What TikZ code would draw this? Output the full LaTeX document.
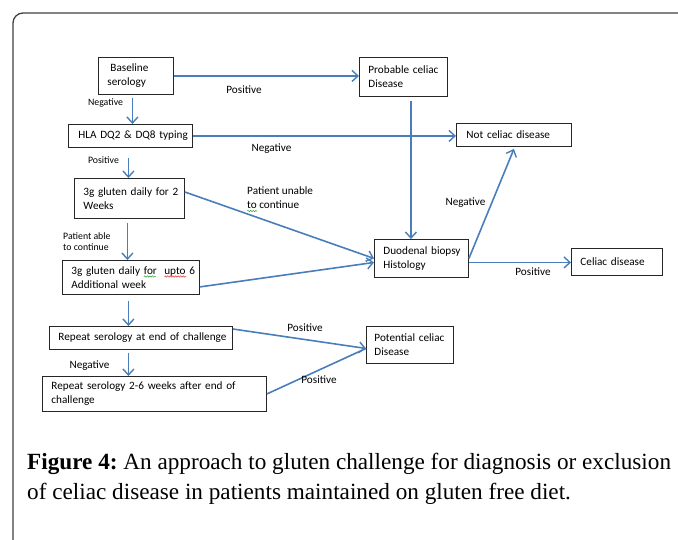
\documentclass[tikz,border=0pt]{standalone}
\usepackage{fontspec}
\setmainfont{Carlito}
\newfontfamily\capfont{Liberation Serif}
\usetikzlibrary{arrows.meta,decorations.pathmorphing,calc}
\definecolor{arrowblue}{HTML}{4A7EBB}
\definecolor{framegray}{HTML}{3F3F3F}
\definecolor{spellred}{HTML}{E03030}
\definecolor{spellgreen}{HTML}{30A030}
\frenchspacing
\begin{document}
\begin{tikzpicture}[x=1pt,y=-1pt,
  box/.style={draw=black!85, line width=0.9pt, align=left, anchor=north west,
    inner ysep=0pt, inner xsep=9pt, font=\fontsize{11.2}{14}\selectfont},
  conn/.style={draw=arrowblue, line width=1.6pt,
    -{Straight Barb[length=6pt,width=11pt,line width=1.4pt]}},
  plain/.style={draw=arrowblue, line width=1.6pt},
  lbl/.style={font=\fontsize{11.2}{14}\selectfont, inner sep=0pt, align=left},
  slbl/.style={font=\fontsize{9.8}{11.5}\selectfont, inner sep=0pt, align=left},
  wavy/.style={line width=0.5pt, decorate, decoration={snake, amplitude=0.7pt, segment length=2.6pt}},
]
\useasboundingbox (0,0) rectangle (678,539);

% frame
\draw[framegray, line width=1.3pt, rounded corners=10pt] (13,560) -- (13,13) -- (700,13);

% boxes
\node[box, text width=57, minimum height=37] (base) at (98,57) {\mbox{\hspace{3pt}Baseline}\\\mbox{serology}};
\node[box, text width=70, minimum height=39] (prob) at (359,57) {\mbox{Probable celiac}\\\mbox{Disease}};
\node[box, text width=104, minimum height=23, inner xsep=10pt] (hla) at (68,124) {\mbox{HLA DQ2 \& DQ8 typing}};
\node[box, text width=95, minimum height=23, inner xsep=10pt] (notc) at (456,123) {\mbox{Not celiac disease}};
\node[box, text width=92, minimum height=40] (g2) at (74,178) {\mbox{3g gluten daily for 2}\\\mbox{Weeks}};
\node[box, text width=76, minimum height=38] (duo) at (374,239) {\mbox{Duodenal biopsy}\\\mbox{Histology}};
\node[box, text width=73, minimum height=27] (cel) at (571,248) {\mbox{Celiac disease}};
\node[box, text width=119, minimum height=34] (g6) at (62,260) {\mbox{3g gluten daily \smash{\tikz[baseline=0pt]\draw[spellgreen, wavy, overlay] (0,2.2) -- (12,2.2);}for\ \ \smash{\tikz[baseline=0pt]\draw[spellred, wavy, overlay] (0,2.2) -- (22,2.2);}upto 6}\\\mbox{Additional week}};
\node[box, text width=165, minimum height=23] (rep1) at (49,326) {\mbox{Repeat serology at end of challenge}};
\node[box, text width=71, minimum height=37, inner xsep=8pt] (pot) at (366,326) {\mbox{Potential celiac}\\\mbox{Disease}};
\node[box, text width=206, minimum height=35] (rep2) at (42,376) {\mbox{Repeat serology 2-6 weeks after end of}\\\mbox{challenge}};

% helper coordinates
\coordinate (pv) at ($(prob.south)+(7.5,4)$);
\coordinate (g2o) at ($(g2.north east)+(0,14)$);
\coordinate (g6o) at ($(g6.south east)+(0,-8)$);
\coordinate (r1o) at ($(rep1.north east)+(0,3)$);
\coordinate (hd) at ($(hla.south)+(-2,10)$);
\coordinate (gd) at ($(g2.south)+(-2,4)$);
\coordinate (g6d) at ($(g6.south)+(-2.5,6)$);
\coordinate (r1d) at ($(rep1.south)+(-12.5,3)$);

% connectors
\draw[conn] (base.east) -- (base.east -| prob.west);
\draw[conn] ([xshift=-3.5pt,yshift=-3pt]base.south) -- ([xshift=-3.5pt]base.south |- hla.north);
\draw[conn] (hla.east) -- (hla.east -| notc.west);
\draw[conn] (hd) -- (hd |- g2.north);
\draw[conn] (pv) -- (pv |- duo.north);
\draw[conn] (g2o) -- (duo.west);
\draw[conn] (gd) -- (gd |- g6.north);
\draw[conn] (g6o) -- ([yshift=-4pt]duo.west);
\draw[conn] (duo.east) -- ([yshift=-2pt]notc.south);
\draw[conn] ([yshift=-4pt]duo.east) -- ([yshift=-4pt]duo.east -| cel.west);
\draw[conn] (g6d) -- (g6d |- rep1.north);
\draw[conn] (r1o) -- ([yshift=-3.5pt]pot.west);
\draw[conn] (r1d) -- (r1d |- rep2.north);
\draw[plain] (rep2.east) -- ([yshift=-3.5pt]pot.west);

% labels
\node[lbl] (l1) at (244,90) {Positive};
\node[slbl] (l2) at (105.5,103) {Negative};
\node[lbl] (l3) at (271.5,149) {Negative};
\node[slbl] (l4) at (103.5,160) {Positive};
\node[lbl, anchor=west] (l5) at (247,198) {Patient unable\\\smash{\tikz[baseline=0pt]\draw[spellgreen, wavy, overlay] (0,2.2) -- (10,2.2);}to continue};
\node[slbl, anchor=west] (l6) at (63,241.5) {Patient able\\to continue};
\node[lbl] (l7) at (465.5,203) {Negative};
\node[lbl] (l8) at (533,272) {Positive};
\node[lbl] (l9) at (305,328) {Positive};
\node[lbl] (l10) at (89.5,366) {Negative};
\node[lbl] (l11) at (319,380) {Positive};

% caption
\node[anchor=base west, inner sep=0pt, font=\capfont\fontsize{23.2}{28}\selectfont] (cap1) at (27,469)
  {\textbf{Figure 4:} An approach to gluten challenge for diagnosis or exclusion};
\node[anchor=base west, inner sep=0pt, font=\capfont\fontsize{23.2}{28}\selectfont] (cap2) at (27,499)
  {of celiac disease in patients maintained on gluten free diet.};
\end{tikzpicture}
\end{document}
